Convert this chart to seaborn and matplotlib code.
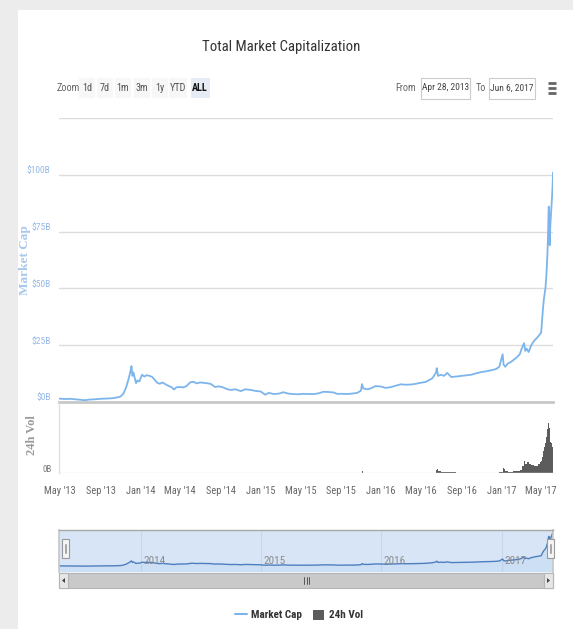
import matplotlib
matplotlib.use('Agg')
import matplotlib.pyplot as plt
import matplotlib.font_manager as fm
from matplotlib.patches import Rectangle, Polygon
from matplotlib.lines import Line2D
from matplotlib.transforms import ScaledTranslation, blended_transform_factory
import seaborn as sns
import pandas as pd

# ---------------- data ----------------
dates = [
    '2013-04-28', '2013-05-15', '2013-06-01', '2013-06-15', '2013-07-01', '2013-07-15',
    '2013-08-01', '2013-08-15', '2013-09-01', '2013-09-15', '2013-10-01', '2013-10-15',
    '2013-11-01', '2013-11-10', '2013-11-18', '2013-11-25', '2013-12-01', '2013-12-04',
    '2013-12-07', '2013-12-10', '2013-12-14', '2013-12-18', '2013-12-22', '2013-12-28',
    '2014-01-05', '2014-01-12', '2014-01-20', '2014-01-28', '2014-02-05', '2014-02-12',
    '2014-02-20', '2014-02-28', '2014-03-08', '2014-03-15', '2014-03-25', '2014-04-05',
    '2014-04-12', '2014-04-20', '2014-05-01', '2014-05-10', '2014-05-20', '2014-06-01',
    '2014-06-10', '2014-06-20', '2014-07-01', '2014-07-15', '2014-08-01', '2014-08-15',
    '2014-08-25', '2014-09-05', '2014-09-20', '2014-10-01', '2014-10-15', '2014-11-01',
    '2014-11-15', '2014-12-01', '2014-12-15', '2015-01-01', '2015-01-14', '2015-01-25',
    '2015-02-10', '2015-02-25', '2015-03-10', '2015-03-25', '2015-04-10', '2015-04-25',
    '2015-05-10', '2015-05-25', '2015-06-10', '2015-06-25', '2015-07-10', '2015-07-25',
    '2015-08-10', '2015-08-20', '2015-09-05', '2015-09-20', '2015-10-05', '2015-10-20',
    '2015-11-01', '2015-11-04', '2015-11-08', '2015-11-20', '2015-12-01', '2015-12-15',
    '2016-01-01', '2016-01-15', '2016-02-01', '2016-02-15', '2016-03-01', '2016-03-15',
    '2016-04-01', '2016-04-15', '2016-05-01', '2016-05-15', '2016-05-28', '2016-06-05',
    '2016-06-16', '2016-06-18', '2016-06-22', '2016-07-01', '2016-07-10', '2016-07-20',
    '2016-08-01', '2016-08-15', '2016-09-01', '2016-09-15', '2016-10-01', '2016-10-15',
    '2016-11-01', '2016-11-15', '2016-12-01', '2016-12-15', '2016-12-25', '2017-01-04',
    '2017-01-07', '2017-01-12', '2017-01-20', '2017-01-28', '2017-02-05', '2017-02-15',
    '2017-02-25', '2017-03-03', '2017-03-10', '2017-03-14', '2017-03-18', '2017-03-24',
    '2017-04-01', '2017-04-10', '2017-04-20', '2017-04-28', '2017-05-01', '2017-05-04',
    '2017-05-07', '2017-05-10', '2017-05-14', '2017-05-17', '2017-05-20', '2017-05-22',
    '2017-05-24', '2017-05-25', '2017-05-26', '2017-05-27', '2017-05-29', '2017-06-01',
    '2017-06-03', '2017-06-05', '2017-06-06',
]
market_cap = [
    1.5, 1.3, 1.4, 1.2, 1.0, 0.8,
    1.1, 1.2, 1.4, 1.5, 1.6, 1.8,
    2.4, 3.8, 6.5, 10.0, 13.5, 15.8,
    11.5, 13.0, 10.5, 8.3, 9.5, 9.0,
    12.0, 11.2, 11.8, 11.5, 11.0, 9.8,
    8.5, 8.0, 8.6, 8.0, 7.2, 6.5,
    5.5, 6.5, 6.6, 6.4, 7.0, 8.7,
    8.9, 8.2, 8.6, 8.4, 8.0, 6.6,
    6.9, 6.6, 5.7, 5.3, 5.6, 4.8,
    5.6, 5.3, 4.9, 4.6, 3.2, 4.0,
    3.5, 3.7, 4.3, 3.7, 3.5, 3.4,
    3.6, 3.5, 3.5, 3.8, 4.5, 4.4,
    4.2, 3.6, 3.6, 3.5, 3.7, 4.0,
    5.0, 7.9, 6.0, 5.6, 6.0, 7.0,
    6.8, 6.2, 6.6, 7.2, 7.8, 7.6,
    7.7, 8.0, 8.5, 8.8, 9.8, 10.5,
    13.0, 14.9, 11.5, 12.0, 11.5, 12.8,
    11.0, 11.2, 11.5, 11.7, 12.0, 12.6,
    13.2, 13.5, 14.0, 14.5, 15.5, 21.0,
    16.5, 15.5, 17.0, 17.5, 18.4, 19.5,
    21.0, 23.5, 25.9, 22.5, 23.5, 22.0,
    25.0, 27.0, 28.5, 30.0, 30.5, 36.0,
    42.0, 46.0, 50.0, 56.0, 65.0, 74.0,
    86.0, 85.0, 76.0, 69.0, 78.0, 85.0,
    90.0, 96.0, 101.0,
]
volume = [
    0.004, 0.004, 0.004, 0.003, 0.003, 0.003,
    0.003, 0.003, 0.003, 0.003, 0.003, 0.004,
    0.005, 0.006, 0.008, 0.010, 0.012, 0.014,
    0.010, 0.008, 0.008, 0.006, 0.006, 0.006,
    0.006, 0.005, 0.005, 0.005, 0.005, 0.006,
    0.005, 0.005, 0.005, 0.005, 0.005, 0.005,
    0.005, 0.005, 0.005, 0.005, 0.005, 0.005,
    0.005, 0.005, 0.005, 0.005, 0.005, 0.005,
    0.005, 0.005, 0.005, 0.005, 0.005, 0.005,
    0.005, 0.005, 0.005, 0.005, 0.008, 0.005,
    0.005, 0.005, 0.005, 0.005, 0.005, 0.005,
    0.005, 0.005, 0.005, 0.005, 0.005, 0.005,
    0.005, 0.005, 0.005, 0.005, 0.005, 0.008,
    0.010, 0.10, 0.012, 0.008, 0.008, 0.008,
    0.008, 0.006, 0.006, 0.008, 0.008, 0.008,
    0.006, 0.008, 0.008, 0.010, 0.012, 0.03,
    0.20, 0.25, 0.15, 0.06, 0.04, 0.08,
    0.06, 0.02, 0.01, 0.01, 0.01, 0.01,
    0.01, 0.01, 0.02, 0.02, 0.06, 0.35,
    0.25, 0.15, 0.08, 0.05, 0.10, 0.12,
    0.20, 0.45, 0.80, 0.60, 0.70, 0.55,
    0.50, 0.45, 0.60, 0.70, 0.80, 1.00,
    1.40, 1.70, 1.90, 2.30, 2.80, 3.20,
    3.60, 3.20, 2.90, 2.60, 2.00, 1.90,
    1.70, 1.80, 1.80,
]

cap_ticks = [0, 25, 50, 75, 100, 125]
cap_tick_labels = ['$0B', '$25B', '$50B', '$75B', '$100B', '']
x_tick_dates = ['2013-05-01', '2013-09-01', '2014-01-01', '2014-05-01', '2014-09-01',
                '2015-01-01', '2015-05-01', '2015-09-01', '2016-01-01', '2016-05-01',
                '2016-09-01', '2017-01-01', '2017-05-01']
x_tick_labels = ["May '13", "Sep '13", "Jan '14", "May '14", "Sep '14", "Jan '15",
                 "May '15", "Sep '15", "Jan '16", "May '16", "Sep '16", "Jan '17", "May '17"]
nav_year_dates = ['2014-01-01', '2015-01-01', '2016-01-01', '2017-01-01']
nav_year_labels = ['2014', '2015', '2016', '2017']
zoom_labels = ['Zoom', '1d', '7d', '1m', '3m', '1y', 'YTD', 'ALL']
range_from, range_to = 'Apr 28, 2013', 'Jun 6, 2017'
x_start, x_end = '2013-04-28', '2017-06-06'

df = pd.DataFrame({'date': pd.to_datetime(dates), 'cap': market_cap, 'vol': volume})

# ---------------- fonts ----------------
sns.set_theme(style='white')
names = {f.name for f in fm.fontManager.ttflist}
narrow = None
stretch = 'normal'
for cand in ['Liberation Sans Narrow', 'Roboto Condensed', 'Noto Sans Condensed',
             'Open Sans Condensed', 'DejaVu Sans Condensed', 'Arial Narrow']:
    if cand in names:
        narrow = cand
        break
if narrow is None:
    if any(f.name == 'DejaVu Sans' and str(f.stretch) in ('condensed', 'semi-condensed')
           for f in fm.fontManager.ttflist):
        narrow = 'DejaVu Sans'
        stretch = 'condensed'
if narrow is None:
    base_family = ['Liberation Sans', 'DejaVu Sans']
    k = 0.86
else:
    base_family = [narrow, 'DejaVu Sans']
    k = 1.0
plt.rcParams['font.family'] = base_family
plt.rcParams['font.stretch'] = stretch

W, H = 573, 629
fig = plt.figure(figsize=(W / 100, H / 100), dpi=100)
fig.patch.set_facecolor('#ececec')


def fx(x):
    return x / W


def fy(y):
    return 1 - y / H


def rect(x0, y0, x1, y1, **kw):
    r = Rectangle((fx(x0), fy(y1)), fx(x1) - fx(x0), fy(y0) - fy(y1),
                  transform=fig.transFigure, **kw)
    fig.add_artist(r)
    return r


def add_ax(x0, y0, x1, y1):
    a = fig.add_axes([fx(x0), fy(y1), fx(x1) - fx(x0), fy(y0) - fy(y1)])
    a.set_facecolor('none')
    return a


# white card
rect(18, 10, 573, 629, facecolor='white', edgecolor='none', zorder=0)

xmin, xmax = pd.Timestamp(x_start), pd.Timestamp(x_end)

# ---- main pane ----
ax = add_ax(59, 118, 553, 402)
sns.lineplot(data=df, x='date', y='cap', ax=ax, color='#7cb5ec', lw=1.3)
ax.set_xlim(xmin, xmax)
ax.set_ylim(0, 125)
ax.set_yticks(cap_ticks)
ax.set_yticklabels(cap_tick_labels)
ax.yaxis.grid(True, color='#dcdcdc', lw=1)
ax.set_axisbelow(True)
for s in ['top', 'left', 'right']:
    ax.spines[s].set_visible(False)
ax.spines['bottom'].set_color('#c8c8c8')
ax.spines['bottom'].set_linewidth(2)
ax.set_xticks([])
ax.set_xlabel('')
ax.set_ylabel('')
ax.tick_params(axis='y', length=0, pad=6, labelsize=6.8 * k, labelcolor='#95b9e6')
for lab in ax.get_yticklabels():
    lab.set_transform(lab.get_transform() + ScaledTranslation(0, 0.05, fig.dpi_scale_trans))
fig.text(fx(25), fy(260), 'Market Cap', rotation=90, ha='center', va='center',
         family=['Liberation Serif', 'DejaVu Serif'], weight='bold', fontsize=9.5, color='#a9c7ee')

# ---- volume pane ----
axv = add_ax(59, 403, 553, 473)
widths = df['date'].diff().shift(-1).fillna(pd.Timedelta(days=1))
axv.bar(df['date'], df['vol'], width=widths, align='edge', color='#5c5c5c', edgecolor='none')
axv.set_xlim(xmin, xmax)
axv.set_ylim(0, 4.5)
axv.set_yticks([0])
axv.set_yticklabels(['0B'])
for s in ['top', 'right', 'bottom']:
    axv.spines[s].set_visible(False)
axv.spines['left'].set_color('#e0e0e0')
axv.spines['left'].set_linewidth(1)
axv.axhline(0, color='#e6e6e6', lw=1)
axv.set_xticks(pd.to_datetime(x_tick_dates))
axv.set_xticklabels(x_tick_labels)
axv.tick_params(axis='x', length=6, width=1, color='#ccd6eb', pad=3, labelsize=7.5 * k,
                labelcolor='#666666')
axv.tick_params(axis='y', length=0, pad=5, labelsize=6.5 * k, labelcolor='#777777')
for lab in axv.get_yticklabels():
    lab.set_transform(lab.get_transform() + ScaledTranslation(0, 0.04, fig.dpi_scale_trans))
for t in axv.xaxis.get_ticklines():
    t.set_clip_on(False)
fig.text(fx(32), fy(435), '24h Vol', rotation=90, ha='center', va='center',
         family=['Liberation Serif', 'DejaVu Serif'], weight='bold', fontsize=9, color='#9a9a9a')

# ---- navigator ----
axn = add_ax(59, 530, 553, 572)
axn.set_facecolor('#d8e5f6')
axn.fill_between(df['date'], -20, df['cap'], color='#7cb5ec', alpha=0.12, lw=0)
sns.lineplot(data=df, x='date', y='cap', ax=axn, color='#4d7fbf', lw=1)
axn.set_xlim(xmin, xmax)
axn.set_ylim(-16, 104)
axn.set_xticks(pd.to_datetime(nav_year_dates))
axn.set_xticklabels([])
axn.xaxis.grid(True, color='#c9d7ea', lw=0.8)
axn.set_yticks([])
axn.tick_params(length=0)
axn.set_xlabel('')
axn.set_ylabel('')
axn.spines['top'].set_color('#a8a8a8')
axn.spines['top'].set_linewidth(1)
axn.spines['bottom'].set_visible(False)
axn.spines['left'].set_color('#c8c8c8')
axn.spines['right'].set_color('#c8c8c8')
tr = blended_transform_factory(axn.transData, axn.transAxes)
for d, lab in zip(pd.to_datetime(nav_year_dates), nav_year_labels):
    axn.text(d + pd.Timedelta(days=8), 0.26, lab, transform=tr, ha='left', va='center',
             fontsize=8 * k, color='#8a8a8a')

# navigator handles
for hx in (62, 547):
    rect(hx, 539, hx + 7, 558, facecolor='#f4f4f4', edgecolor='#9a9a9a', lw=0.8, zorder=5)
    for lx in (hx + 2.7, hx + 4.3):
        fig.add_artist(Line2D([fx(lx), fx(lx)], [fy(544), fy(553)], transform=fig.transFigure,
                              color='#9a9a9a', lw=0.6, zorder=6))

# scrollbar
rect(59, 573, 553, 588, facecolor='#c9c9c9', edgecolor='#b5b5b5', lw=0.8, zorder=3)
rect(59, 573, 68, 588, facecolor='#e6e6e6', edgecolor='#b5b5b5', lw=0.8, zorder=4)
rect(544, 573, 553, 588, facecolor='#e6e6e6', edgecolor='#b5b5b5', lw=0.8, zorder=4)
fig.add_artist(Polygon([[fx(62), fy(580.5)], [fx(65), fy(578)], [fx(65), fy(583)]], closed=True,
                       transform=fig.transFigure, facecolor='#444444', edgecolor='none', zorder=5))
fig.add_artist(Polygon([[fx(550), fy(580.5)], [fx(547), fy(578)], [fx(547), fy(583)]], closed=True,
                       transform=fig.transFigure, facecolor='#444444', edgecolor='none', zorder=5))
for gx in (304, 306.5, 309):
    fig.add_artist(Line2D([fx(gx), fx(gx)], [fy(577), fy(584)], transform=fig.transFigure,
                          color='#444444', lw=0.6, zorder=5))

# legend
handles = [Line2D([0], [0], color='#7cb5ec', lw=1.5),
           Rectangle((0, 0), 1, 1, facecolor='#5c5c5c', edgecolor='none')]
fig.legend(handles, ['Market Cap', '24h Vol'], loc='center', bbox_to_anchor=(fx(299), fy(615)),
           ncol=2, frameon=False, handlelength=1.0, handleheight=1.0, handletextpad=0.4,
           columnspacing=1.0, prop={'weight': 'bold', 'size': 8 * k}, labelcolor='#333333')

# ---- title and controls ----
fig.text(fx(281), fy(47), 'Total Market Capitalization', ha='center', va='center',
         fontsize=10.6 * k, color='#333333')

btn_x = [68, 87, 105, 123, 142, 160, 178, 200]
for i, (bx, lab) in enumerate(zip(btn_x, zoom_labels)):
    if i == 0:
        fig.text(fx(bx), fy(88), lab, ha='center', va='center', fontsize=7.3 * k, color='#666666')
        continue
    wbtn = 16 if len(lab) < 3 else 19
    sel = lab == 'ALL'
    rect(bx - wbtn / 2, 78, bx + wbtn / 2, 98,
         facecolor='#e6ebf5' if sel else '#f7f7f7', edgecolor='none', zorder=1)
    fig.text(fx(bx), fy(88), lab, ha='center', va='center', fontsize=7.3 * k,
             color='#111111' if sel else '#555555', weight='bold' if sel else 'normal', zorder=2)

fig.text(fx(416), fy(88), 'From', ha='right', va='center', fontsize=7.3 * k, color='#666666')
rect(421, 78, 470, 99, facecolor='white', edgecolor='#cccccc', lw=0.8, zorder=1)
fig.text(fx(445.5), fy(88), range_from, ha='center', va='center', fontsize=6.8 * k,
         color='#444444', zorder=2)
fig.text(fx(481), fy(88), 'To', ha='center', va='center', fontsize=7.3 * k, color='#666666')
rect(489, 78, 535, 99, facecolor='white', edgecolor='#cccccc', lw=0.8, zorder=1)
fig.text(fx(512), fy(88), range_to, ha='center', va='center', fontsize=6.8 * k,
         color='#444444', zorder=2)
for hy in (83, 88, 93):
    fig.add_artist(Line2D([fx(548), fx(556)], [fy(hy), fy(hy)], transform=fig.transFigure,
                          color='#666666', lw=2, solid_capstyle='butt'))

fig.savefig('out.png', dpi=100, facecolor=fig.get_facecolor())
